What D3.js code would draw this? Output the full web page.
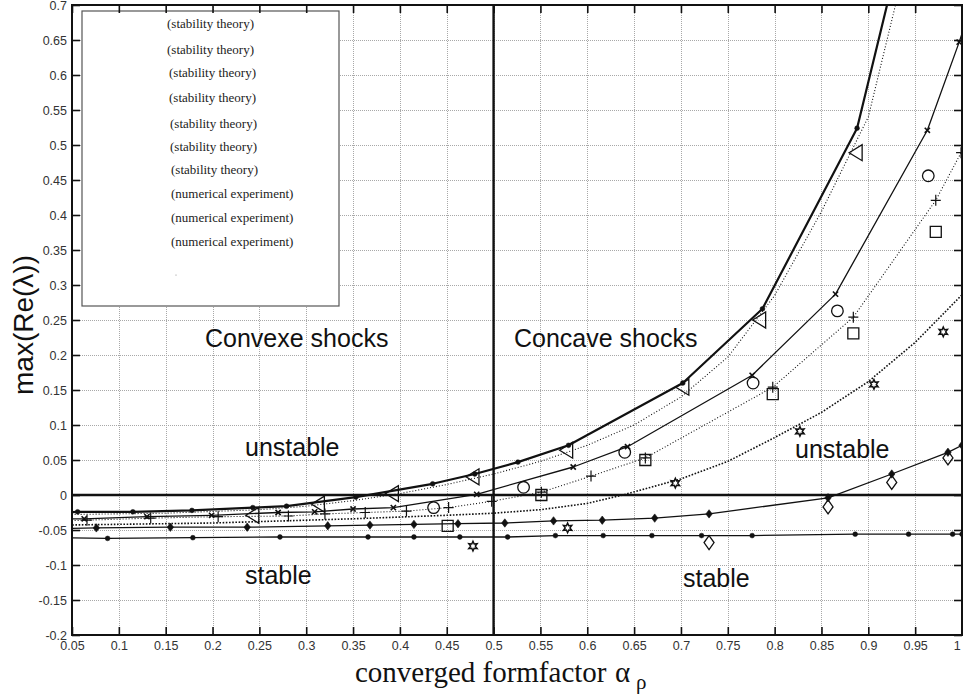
<!DOCTYPE html>
<html>
<head>
<meta charset="utf-8">
<script src="https://cdn.jsdelivr.net/npm/d3@7/dist/d3.min.js"></script>
<style>
  body { margin: 0; background: #fff; }
  svg { display: block; }
</style>
</head>
<body>
<svg id="chart" width="963" height="697"></svg>
<script>
// ---- tick values and labels ----
const xTickValues = [0.05,0.1,0.15,0.2,0.25,0.3,0.35,0.4,0.45,0.5,0.55,0.6,0.65,0.7,0.75,0.8,0.85,0.9,0.95,1];
const xTickLabels = ["0.05","0.1","0.15","0.2","0.25","0.3","0.35","0.4","0.45","0.5","0.55","0.6","0.65","0.7","0.75","0.8","0.85","0.9","0.95","1"];
const yTickValues = [-0.2,-0.15,-0.1,-0.05,0,0.05,0.1,0.15,0.2,0.25,0.3,0.35,0.4,0.45,0.5,0.55,0.6,0.65,0.7];
const yTickLabels = ["-0.2","-0.15","-0.1","-0.05","0","0.05","0.1","0.15","0.2","0.25","0.3","0.35","0.4","0.45","0.5","0.55","0.6","0.65","0.7"];

// ---- stability theory curves: [formfactor, max Re(lambda)] ----
const theoryThick = [[0.04,-0.025],[0.056,-0.024],[0.115,-0.024],[0.178,-0.022],[0.243,-0.018],[0.279,-0.016],[0.353,-0.003],[0.435,0.016],[0.48,0.030],[0.526,0.047],[0.58,0.071],[0.702,0.160],[0.787,0.266],[0.888,0.524],[0.95,0.865]];
const theoryDotted1 = [[0.04,-0.028],[0.15,-0.026],[0.25,-0.021],[0.3,-0.016],[0.35,-0.008],[0.4,0.002],[0.45,0.015],[0.5,0.030],[0.55,0.048],[0.6,0.071],[0.65,0.100],[0.7,0.140],[0.75,0.197],[0.8,0.285],[0.85,0.405],[0.9,0.540],[0.929,0.700],[0.95,0.840]];
const theoryCross = [[0.04,-0.034],[0.063,-0.034],[0.130,-0.031],[0.199,-0.029],[0.27,-0.025],[0.309,-0.024],[0.35,-0.020],[0.393,-0.018],[0.482,0.001],[0.585,0.040],[0.643,0.069],[0.776,0.171],[0.865,0.287],[0.963,0.521],[0.997,0.647],[1.01,0.70]];
const theoryPlus = [[0.04,-0.037],[0.066,-0.036],[0.134,-0.033],[0.206,-0.031],[0.281,-0.030],[0.32,-0.027],[0.363,-0.025],[0.407,-0.023],[0.452,-0.018],[0.498,-0.009],[0.551,0.004],[0.604,0.027],[0.662,0.053],[0.798,0.154],[0.884,0.254],[0.972,0.421],[0.999,0.489]];
const theoryDotted2 = [[0.04,-0.043],[0.2,-0.040],[0.35,-0.034],[0.45,-0.029],[0.5,-0.026],[0.55,-0.021],[0.6,-0.012],[0.638,0.0],[0.7,0.023],[0.75,0.048],[0.8,0.082],[0.85,0.118],[0.9,0.162],[0.95,0.218],[1.0,0.286]];
const theoryDiamondDot = [[0.04,-0.048],[0.076,-0.047],[0.155,-0.046],[0.237,-0.046],[0.323,-0.044],[0.368,-0.043],[0.415,-0.042],[0.462,-0.041],[0.512,-0.040],[0.564,-0.037],[0.616,-0.036],[0.672,-0.033],[0.73,-0.027],[0.857,-0.004],[0.925,0.030],[0.985,0.061],[1.0,0.071]];
const theoryLow = [[0.04,-0.061],[0.088,-0.062],[0.179,-0.061],[0.272,-0.060],[0.366,-0.060],[0.415,-0.060],[0.464,-0.060],[0.515,-0.060],[0.566,-0.058],[0.617,-0.058],[0.669,-0.058],[0.722,-0.058],[0.776,-0.058],[0.886,-0.056],[0.943,-0.056],[0.99,-0.056],[1.0,-0.056]];

// ---- numerical experiment points ----
const expTriangles = [[0.243,-0.029],[0.313,-0.013],[0.392,0.002],[0.478,0.026],[0.578,0.064],[0.702,0.154],[0.784,0.250],[0.887,0.489]];
const expCircles = [[0.436,-0.018],[0.532,0.011],[0.640,0.061],[0.777,0.160],[0.867,0.263],[0.964,0.456]];
const expSquares = [[0.451,-0.044],[0.551,0.0],[0.662,0.050],[0.798,0.144],[0.884,0.231],[0.972,0.376]];
const expStars = [[0.478,-0.073],[0.579,-0.047],[0.694,0.017],[0.827,0.091],[0.906,0.158],[0.980,0.233]];
const expDiamonds = [[0.730,-0.068],[0.857,-0.017],[0.925,0.018],[0.985,0.053]];

// ---- legend entries ----
const legendLabels = ["(stability theory)","(stability theory)","(stability theory)","(stability theory)","(stability theory)","(stability theory)","(stability theory)","(numerical experiment)","(numerical experiment)","(numerical experiment)"];

(function () {
const ink = "#111";
const svg = d3.select("#chart");
const pLeft = 72, pRight = 962, pTop = 5, pBottom = 635;

const x = d3.scaleLinear().domain([0.05, 1.0]).range([pLeft, pRight]);
const y = d3.scaleLinear().domain([-0.2, 0.7]).range([pBottom, pTop]);

svg.append("defs").append("clipPath").attr("id", "plotClip")
  .append("rect").attr("x", pLeft).attr("y", pTop).attr("width", pRight - pLeft).attr("height", pBottom - pTop);

// grid
const grid = svg.append("g").attr("stroke", "#a8a8a8").attr("stroke-width", 1)
  .attr("stroke-dasharray", "1,1").attr("shape-rendering", "crispEdges");
grid.selectAll(".gx").data(xTickValues.slice(1, -1)).join("line").attr("class", "gx")
  .attr("x1", d => Math.round(x(d)) + 0.5).attr("x2", d => Math.round(x(d)) + 0.5)
  .attr("y1", pTop).attr("y2", pBottom);
grid.selectAll(".gy").data(yTickValues.slice(1, -1)).join("line").attr("class", "gy")
  .attr("y1", d => Math.round(y(d)) + 0.5).attr("y2", d => Math.round(y(d)) + 0.5)
  .attr("x1", pLeft).attr("x2", pRight);

// stability boundary and shock-type divider
svg.append("line").attr("x1", pLeft).attr("x2", pRight).attr("y1", y(0)).attr("y2", y(0))
  .attr("stroke", ink).attr("stroke-width", 2.4);
svg.append("line").attr("x1", x(0.5)).attr("x2", x(0.5)).attr("y1", pTop).attr("y2", pBottom)
  .attr("stroke", ink).attr("stroke-width", 2.4);

const line = d3.line().x(d => x(d[0])).y(d => y(d[1]));
const plot = svg.append("g").attr("clip-path", "url(#plotClip)");

function drawCurve(data, width, dash) {
  plot.append("path").datum(data).attr("d", line)
    .attr("fill", "none").attr("stroke", ink).attr("stroke-width", width)
    .attr("stroke-dasharray", dash || null).attr("stroke-linejoin", "round");
}
function inRange(d) { return d[0] >= 0.05 && d[0] <= 1.0 && d[1] >= -0.2 && d[1] <= 0.7; }
function drawMarkers(data, pathStr, opts) {
  svg.append("g").selectAll("path").data(data.filter(inRange)).join("path")
    .attr("transform", d => `translate(${x(d[0])},${y(d[1])})`)
    .attr("d", pathStr)
    .attr("fill", opts.fill || "none")
    .attr("stroke", ink)
    .attr("stroke-width", opts.sw || 1.2);
}

drawCurve(theoryLow, 1.3);
drawCurve(theoryDiamondDot, 1.3);
drawCurve(theoryDotted2, 1.6, "1.6,1.6");
drawCurve(theoryPlus, 1.1, "1,2");
drawCurve(theoryCross, 1.3);
drawCurve(theoryDotted1, 1.1, "1,2");
drawCurve(theoryThick, 2.2);

const dotPath = "M-2.4,0A2.4,2.4 0 1,0 2.4,0A2.4,2.4 0 1,0 -2.4,0Z";
drawMarkers(theoryThick, dotPath, { fill: ink, sw: 0.5 });
drawMarkers(theoryLow, dotPath, { fill: ink, sw: 0.5 });
drawMarkers(theoryDiamondDot, "M0,-4.2L3.2,0L0,4.2L-3.2,0Z", { fill: ink, sw: 0.6 });
drawMarkers(theoryCross, "M-2.6,-2.6L2.6,2.6M-2.6,2.6L2.6,-2.6", { sw: 1.6 });
drawMarkers(theoryPlus, "M-5,0H5M0,-5.5V5.5", { sw: 1.2 });

// numerical experiment symbols
drawMarkers(expTriangles, "M-7,0L6,-8L6,8Z", { sw: 1.3 });
drawMarkers(expCircles, "M-5.8,0A5.8,5.8 0 1,0 5.8,0A5.8,5.8 0 1,0 -5.8,0Z", { sw: 1.3 });
drawMarkers(expSquares, "M-5.5,-5.5H5.5V5.5H-5.5Z", { sw: 1.3 });
const hexagram = (() => {
  const pts = [];
  for (let i = 0; i < 12; i++) {
    const r = i % 2 === 0 ? 4.8 : 2.4;
    const a = -Math.PI / 2 + i * Math.PI / 6;
    pts.push([r * Math.cos(a), r * Math.sin(a)]);
  }
  return "M" + pts.map(p => p[0].toFixed(2) + "," + p[1].toFixed(2)).join("L") + "Z";
})();
drawMarkers(expStars, hexagram, { sw: 1.5 });
drawMarkers(expDiamonds, "M0,-7L5,0L0,7L-5,0Z", { sw: 1.3 });

// legend box
const lg = svg.append("g");
lg.append("rect").attr("x", 82).attr("y", 11).attr("width", 257).attr("height", 295)
  .attr("fill", "#fff").attr("stroke", "#555").attr("stroke-width", 1.2);
const legendX = [167, 167, 169, 169, 170, 170, 171, 171, 171, 171];
const legendY = [28, 54, 77, 102, 128, 151, 174, 198, 222, 246];
lg.selectAll("text").data(legendLabels).join("text")
  .attr("x", (d, i) => legendX[i]).attr("y", (d, i) => legendY[i])
  .attr("font-family", "'Liberation Serif','Times New Roman',serif").attr("font-size", 13)
  .attr("fill", "#222").text(d => d);
lg.append("circle").attr("cx", 176).attr("cy", 275).attr("r", 0.6).attr("fill", "#888");

// frame
svg.append("rect").attr("x", pLeft).attr("y", pTop).attr("width", pRight - pLeft).attr("height", pBottom - pTop)
  .attr("fill", "none").attr("stroke", ink).attr("stroke-width", 2);

// axes with inward ticks
const tickFont = "'Liberation Sans',Arial,Helvetica,sans-serif";
const xAxis = svg.append("g").attr("transform", `translate(0,${pBottom})`)
  .call(d3.axisBottom(x).tickValues(xTickValues).tickFormat((d, i) => xTickLabels[i]).tickSize(-8).tickPadding(6));
const yAxis = svg.append("g").attr("transform", `translate(${pLeft},0)`)
  .call(d3.axisLeft(y).tickValues(yTickValues).tickFormat((d, i) => yTickLabels[i]).tickSize(-8).tickPadding(5));
const xTop = svg.append("g").attr("transform", `translate(0,${pTop})`)
  .call(d3.axisTop(x).tickValues(xTickValues).tickFormat("").tickSize(-8));
const yRight = svg.append("g").attr("transform", `translate(${pRight},0)`)
  .call(d3.axisRight(y).tickValues(yTickValues).tickFormat("").tickSize(-8));
[xAxis, yAxis, xTop, yRight].forEach(g => {
  g.select(".domain").remove();
  g.selectAll(".tick line").attr("stroke", ink).attr("stroke-width", 1.6);
  g.selectAll("text").attr("font-family", tickFont).attr("font-size", 12.5).attr("fill", "#333");
});
// keep the last x label inside the page edge
xAxis.selectAll(".tick text").filter(d => d === 1).attr("text-anchor", "end").attr("dx", "-0.15em");

// region annotations
const annFont = "'Liberation Sans',Arial,Helvetica,sans-serif";
const annotations = [
  { t: "Convexe shocks", x: 205, y: 347 },
  { t: "Concave shocks", x: 514, y: 347 },
  { t: "unstable", x: 245, y: 456 },
  { t: "unstable", x: 795, y: 458 },
  { t: "stable", x: 245, y: 584 },
  { t: "stable", x: 683, y: 587 }
];
svg.append("g").selectAll("text").data(annotations).join("text")
  .attr("x", d => d.x).attr("y", d => d.y)
  .attr("font-family", annFont).attr("font-size", 25).attr("fill", ink)
  .text(d => d.t);

// axis titles
svg.append("text")
  .attr("transform", `translate(33,325) rotate(-90)`)
  .attr("text-anchor", "middle")
  .attr("font-family", annFont).attr("font-size", 28).attr("fill", ink)
  .text("max(Re(λ))");

const serif = "'Liberation Serif','Times New Roman',serif";
svg.append("text").attr("x", 355).attr("y", 682)
  .attr("font-family", serif).attr("font-size", 29).attr("fill", ink)
  .text("converged formfactor");
svg.append("text").attr("x", 615).attr("y", 682)
  .attr("font-family", serif).attr("font-size", 29).attr("fill", ink)
  .text("α");
svg.append("text").attr("x", 636).attr("y", 689)
  .attr("font-family", serif).attr("font-size", 21).attr("fill", ink)
  .text("ρ");
})();
</script>
</body>
</html>
